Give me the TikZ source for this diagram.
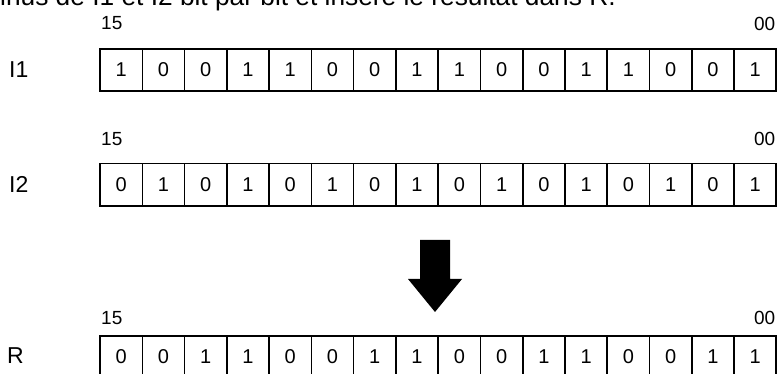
\documentclass[tikz,border=0pt]{standalone}
\usepackage{fontspec}
\setmainfont{Liberation Sans}
\begin{document}
\begin{tikzpicture}[x=1pt,y=-1pt,
  bitcell/.style={draw, line width=1.6pt, minimum width=42.26pt, minimum height=42.5pt, inner sep=0pt, anchor=north west, font=\fontsize{20}{22}\selectfont},
  rowlabel/.style={anchor=west, inner sep=0pt, font=\fontsize{23}{26}\selectfont},
  numlabel/.style={inner sep=0pt, font=\fontsize{19}{22}\selectfont}]
\useasboundingbox (0,0) rectangle (777,374);
\node[anchor=base west, inner sep=0pt, font=\fontsize{26.3}{30}\selectfont] (title) at (0,5.2) {inus de I1 et I2 bit par bit et insère le résultat dans R.};
% I1
\foreach \b [count=\i from 0] in {1,0,0,1,1,0,0,1,1,0,0,1,1,0,0,1}
  \node[bitcell] (a\i) at (99.3+42.26*\i,48) {\b};
\node[rowlabel] (lI1) at (9,69.3) {I1};
\node[numlabel, anchor=west] (hA) at (101,23.5) {15};
\node[numlabel, anchor=east] (lA) at (775.5,23.5) {00};
% I2
\foreach \b [count=\i from 0] in {0,1,0,1,0,1,0,1,0,1,0,1,0,1,0,1}
  \node[bitcell] (b\i) at (99.3+42.26*\i,162.7) {\b};
\node[rowlabel] (lI2) at (9,184) {I2};
\node[numlabel, anchor=west] (hB) at (101,139) {15};
\node[numlabel, anchor=east] (lB) at (775.5,139) {00};
% R
\foreach \b [count=\i from 0] in {0,0,1,1,0,0,1,1,0,0,1,1,0,0,1,1}
  \node[bitcell] (c\i) at (99.3+42.26*\i,335) {\b};
\node[rowlabel] (lR) at (7,356) {R};
\node[numlabel, anchor=west] (hC) at (101,318) {15};
\node[numlabel, anchor=east] (lC) at (775.5,318) {00};
% arrow
\fill (420,240) -- (450,240) -- (450,279) -- (462,279) -- (435,312) -- (408,279) -- (420,279) -- cycle;
\end{tikzpicture}
\end{document}
